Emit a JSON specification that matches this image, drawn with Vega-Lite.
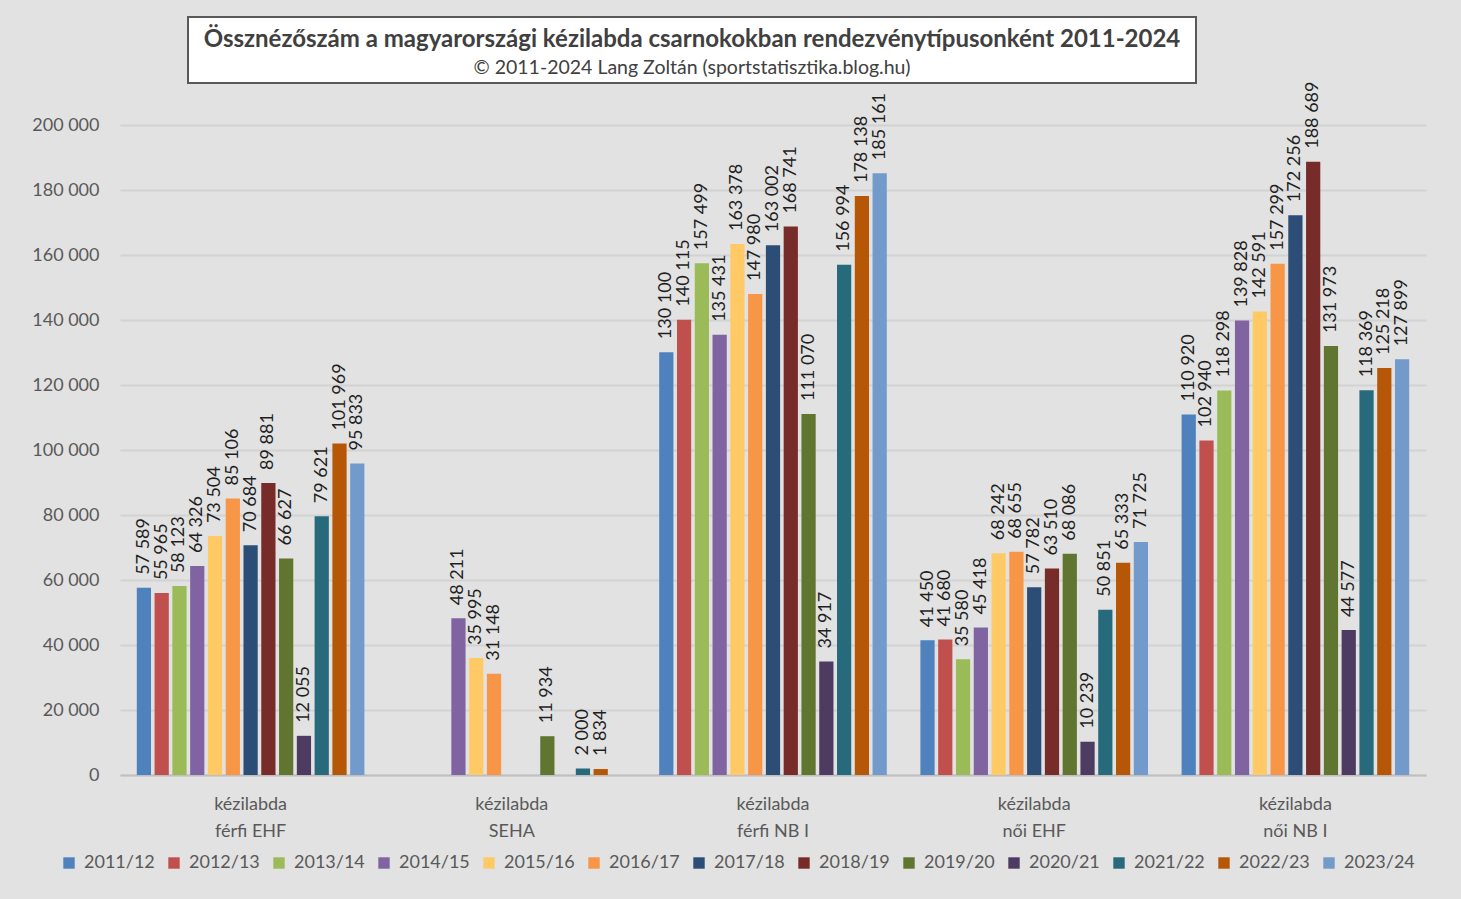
{
  "$schema": "https://vega.github.io/schema/vega-lite/v6.json",
  "background": "#e2e2e2",
  "padding": {"left": 31, "top": 16, "right": 40, "bottom": 30},
  "config": {
    "locale": {"number": {"decimal": ",", "thousands": " ", "grouping": [3], "currency": ["", ""]}},
    "font": "Lato",
    "view": {"stroke": null}
  },
  "datasets": {
    "titles": [
      {"title": "Össznézőszám a magyarországi kézilabda csarnokokban rendezvénytípusonként 2011-2024", "sub": "© 2011-2024 Lang Zoltán (sportstatisztika.blog.hu)"}
    ],
    "d": [
      {"c": "kézilabda férfi EHF", "s": "2011/12", "v": 57589},
      {"c": "kézilabda férfi EHF", "s": "2012/13", "v": 55965},
      {"c": "kézilabda férfi EHF", "s": "2013/14", "v": 58123},
      {"c": "kézilabda férfi EHF", "s": "2014/15", "v": 64326},
      {"c": "kézilabda férfi EHF", "s": "2015/16", "v": 73504},
      {"c": "kézilabda férfi EHF", "s": "2016/17", "v": 85106},
      {"c": "kézilabda férfi EHF", "s": "2017/18", "v": 70684},
      {"c": "kézilabda férfi EHF", "s": "2018/19", "v": 89881},
      {"c": "kézilabda férfi EHF", "s": "2019/20", "v": 66627},
      {"c": "kézilabda férfi EHF", "s": "2020/21", "v": 12055},
      {"c": "kézilabda férfi EHF", "s": "2021/22", "v": 79621},
      {"c": "kézilabda férfi EHF", "s": "2022/23", "v": 101969},
      {"c": "kézilabda férfi EHF", "s": "2023/24", "v": 95833},
      {"c": "kézilabda SEHA", "s": "2014/15", "v": 48211},
      {"c": "kézilabda SEHA", "s": "2015/16", "v": 35995},
      {"c": "kézilabda SEHA", "s": "2016/17", "v": 31148},
      {"c": "kézilabda SEHA", "s": "2019/20", "v": 11934},
      {"c": "kézilabda SEHA", "s": "2021/22", "v": 2000},
      {"c": "kézilabda SEHA", "s": "2022/23", "v": 1834},
      {"c": "kézilabda férfi NB I", "s": "2011/12", "v": 130100},
      {"c": "kézilabda férfi NB I", "s": "2012/13", "v": 140115},
      {"c": "kézilabda férfi NB I", "s": "2013/14", "v": 157499},
      {"c": "kézilabda férfi NB I", "s": "2014/15", "v": 135431},
      {"c": "kézilabda férfi NB I", "s": "2015/16", "v": 163378},
      {"c": "kézilabda férfi NB I", "s": "2016/17", "v": 147980},
      {"c": "kézilabda férfi NB I", "s": "2017/18", "v": 163002},
      {"c": "kézilabda férfi NB I", "s": "2018/19", "v": 168741},
      {"c": "kézilabda férfi NB I", "s": "2019/20", "v": 111070},
      {"c": "kézilabda férfi NB I", "s": "2020/21", "v": 34917},
      {"c": "kézilabda férfi NB I", "s": "2021/22", "v": 156994},
      {"c": "kézilabda férfi NB I", "s": "2022/23", "v": 178138},
      {"c": "kézilabda férfi NB I", "s": "2023/24", "v": 185161},
      {"c": "kézilabda női EHF", "s": "2011/12", "v": 41450},
      {"c": "kézilabda női EHF", "s": "2012/13", "v": 41680},
      {"c": "kézilabda női EHF", "s": "2013/14", "v": 35580},
      {"c": "kézilabda női EHF", "s": "2014/15", "v": 45418},
      {"c": "kézilabda női EHF", "s": "2015/16", "v": 68242},
      {"c": "kézilabda női EHF", "s": "2016/17", "v": 68655},
      {"c": "kézilabda női EHF", "s": "2017/18", "v": 57782},
      {"c": "kézilabda női EHF", "s": "2018/19", "v": 63510},
      {"c": "kézilabda női EHF", "s": "2019/20", "v": 68086},
      {"c": "kézilabda női EHF", "s": "2020/21", "v": 10239},
      {"c": "kézilabda női EHF", "s": "2021/22", "v": 50851},
      {"c": "kézilabda női EHF", "s": "2022/23", "v": 65333},
      {"c": "kézilabda női EHF", "s": "2023/24", "v": 71725},
      {"c": "kézilabda női NB I", "s": "2011/12", "v": 110920},
      {"c": "kézilabda női NB I", "s": "2012/13", "v": 102940},
      {"c": "kézilabda női NB I", "s": "2013/14", "v": 118298},
      {"c": "kézilabda női NB I", "s": "2014/15", "v": 139828},
      {"c": "kézilabda női NB I", "s": "2015/16", "v": 142591},
      {"c": "kézilabda női NB I", "s": "2016/17", "v": 157299},
      {"c": "kézilabda női NB I", "s": "2017/18", "v": 172256},
      {"c": "kézilabda női NB I", "s": "2018/19", "v": 188689},
      {"c": "kézilabda női NB I", "s": "2019/20", "v": 131973},
      {"c": "kézilabda női NB I", "s": "2020/21", "v": 44577},
      {"c": "kézilabda női NB I", "s": "2021/22", "v": 118369},
      {"c": "kézilabda női NB I", "s": "2022/23", "v": 125218},
      {"c": "kézilabda női NB I", "s": "2023/24", "v": 127899}
    ]
  },
  "bounds": "flush",
  "spacing": 108,
  "vconcat": [
    {
      "bounds": "flush",
      "spacing": 0,
      "hconcat": [
        {
          "width": 68,
          "height": 66,
          "data": {"values": []},
          "mark": "text",
          "encoding": {}
        },
        {
          "width": 1008,
          "height": 66,
          "data": {"name": "titles"},
          "view": {"fill": "#ffffff", "stroke": "#595959", "strokeWidth": 2},
          "layer": [
            {
              "mark": {"type": "text", "fontWeight": "bold", "fontSize": 24, "color": "#404040", "dy": -10},
              "encoding": {"text": {"field": "title", "type": "nominal"}}
            },
            {
              "mark": {"type": "text", "fontSize": 19.5, "color": "#404040", "dy": 18},
              "encoding": {"text": {"field": "sub", "type": "nominal"}}
            }
          ]
        }
      ]
    },
    {
      "width": 1306,
      "height": 650,
      "data": {"name": "d"},
      "encoding": {
        "x": {
          "field": "c",
          "type": "nominal",
          "sort": null,
          "scale": {"paddingInner": 0.115, "paddingOuter": 0.0575},
          "axis": {
            "title": null,
            "labelAngle": 0,
            "ticks": false,
            "domainColor": "#bfbfbf",
            "domainWidth": 2,
            "labelFontSize": 18,
            "labelColor": "#595959",
            "labelPadding": 29,
            "labelLineHeight": 27,
            "labelBaseline": "middle",
            "labelExpr": "['kézilabda', substring(datum.label, 10)]"
          }
        },
        "xOffset": {
          "field": "s",
          "type": "nominal",
          "scale": {"paddingInner": 0.2, "paddingOuter": 0.1}
        },
        "y": {
          "field": "v",
          "type": "quantitative",
          "scale": {"domain": [0, 200000], "nice": false},
          "axis": {
            "title": null,
            "values": [0, 20000, 40000, 60000, 80000, 100000, 120000, 140000, 160000, 180000, 200000],
            "format": ",d",
            "labelFontSize": 18,
            "labelColor": "#595959",
            "ticks": false,
            "domain": false,
            "gridColor": "#d2d2d2",
            "gridWidth": 2,
            "labelPadding": 21
          }
        }
      },
      "layer": [
        {
          "mark": {"type": "bar"},
          "encoding": {
            "color": {
              "field": "s",
              "type": "nominal",
              "scale": {
                "domain": ["2011/12", "2012/13", "2013/14", "2014/15", "2015/16", "2016/17", "2017/18", "2018/19", "2019/20", "2020/21", "2021/22", "2022/23", "2023/24"],
                "range": ["#4F81BD", "#C0504D", "#9BBB59", "#8064A2", "#FFCA66", "#F79646", "#2C4D75", "#772C2A", "#5F7530", "#4D3B62", "#276A7C", "#B65708", "#729ACA"]
              },
              "legend": {
                "title": null,
                "orient": "none",
                "legendX": -60,
                "legendY": 837,
                "direction": "horizontal",
                "columns": 13,
                "symbolType": "square",
                "symbolSize": 130,
                "symbolStrokeWidth": 0,
                "labelFontSize": 18,
                "labelColor": "#595959",
                "labelOffset": 6,
                "columnPadding": 10
              }
            }
          }
        },
        {
          "mark": {"type": "text", "angle": 270, "align": "left", "baseline": "middle", "dx": 13, "fontSize": 18, "color": "#1f1f1f"},
          "encoding": {
            "text": {"field": "v", "type": "quantitative", "format": ",d"},
            "fontWeight": {"condition": {"test": "datum.s === '2016/17'", "value": "bold"}, "value": "normal"}
          }
        }
      ]
    }
  ]
}
